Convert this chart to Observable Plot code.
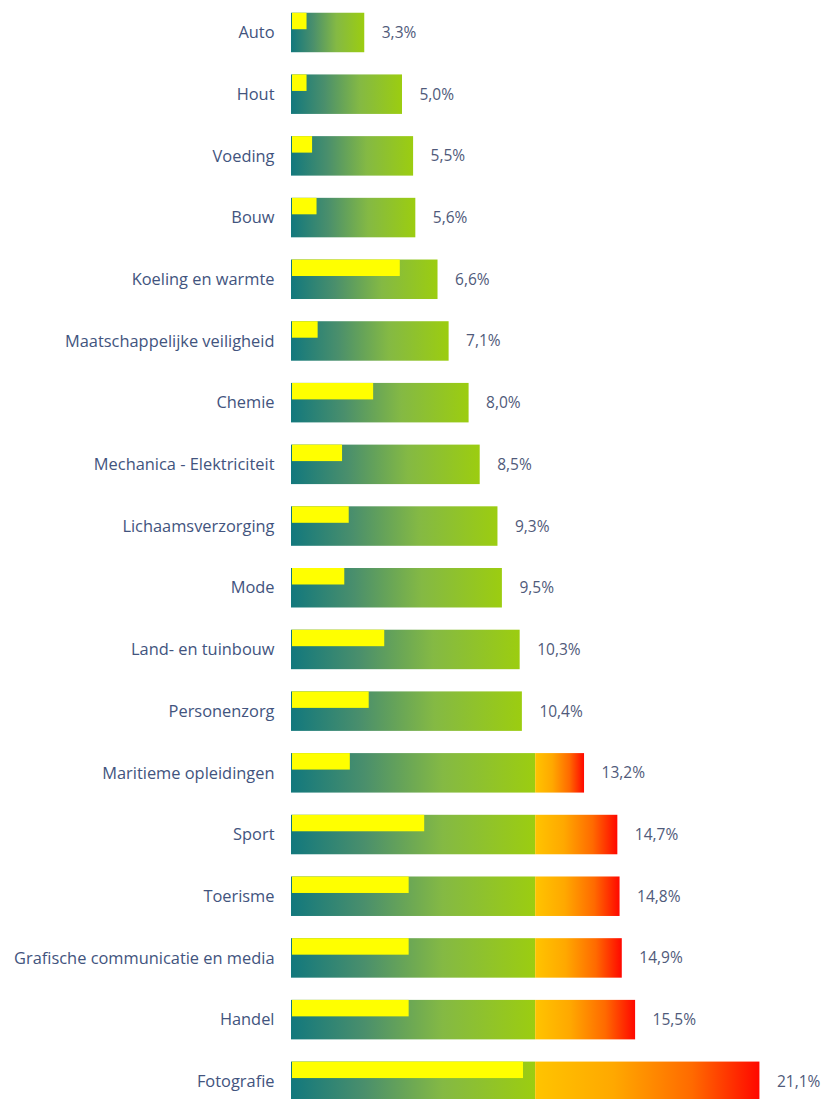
<!DOCTYPE html>
<html>
<head>
<meta charset="utf-8">
<script src="https://cdn.jsdelivr.net/npm/d3@7"></script>
<script src="https://cdn.jsdelivr.net/npm/@observablehq/plot@0.6"></script>
<style>
  html, body { margin: 0; padding: 0; background: #fff; overflow: hidden; }
  #chart svg { display: block; }
</style>
</head>
<body>
<div id="chart"></div>
<script>
const categories = [
  "Auto", "Hout", "Voeding", "Bouw", "Koeling en warmte",
  "Maatschappelijke veiligheid", "Chemie", "Mechanica - Elektriciteit",
  "Lichaamsverzorging", "Mode", "Land- en tuinbouw", "Personenzorg",
  "Maritieme opleidingen", "Sport", "Toerisme",
  "Grafische communicatie en media", "Handel", "Fotografie"
];
const totalValues = [3.3, 5.0, 5.5, 5.6, 6.6, 7.1, 8.0, 8.5, 9.3, 9.5, 10.3, 10.4, 13.2, 14.7, 14.8, 14.9, 15.5, 21.1];
const yellowValues = [0.7, 0.7, 0.95, 1.15, 4.9, 1.2, 3.7, 2.3, 2.6, 2.4, 4.2, 3.5, 2.65, 6.0, 5.3, 5.3, 5.3, 10.45];
const threshold = 11;

const rows = categories.map((c, i) => ({cat: c, total: totalValues[i], yellow: yellowValues[i]}));
const overRows = rows.filter(d => d.total > threshold);
const fmt = v => d3.format(".1f")(v).replace(".", ",") + "%";

const labelColor = "#42547e";
const valueColor = "#505a7a";

const plot = Plot.plot({
  width: 822,
  height: 1099,
  marginLeft: 0, marginRight: 0, marginTop: 0, marginBottom: 0,
  style: {background: "#fff", fontFamily: "'Open Sans', Lato, sans-serif"},
  x: {domain: [0, 24], range: [291, 291 + 24 * 22.2], axis: null},
  y: {domain: categories, range: [0.4, 1113.4], paddingInner: 0.36, paddingOuter: 0.2, round: false, axis: null},
  marks: [
    Plot.barX(rows, {y: "cat", x1: 0, x2: d => Math.min(d.total, threshold), fill: "url(#gradGreen)"}),
    Plot.barX(overRows, {y: "cat", x1: threshold, x2: "total", fill: "url(#gradRed)"}),
    Plot.barX(rows, {y: "cat", x1: 0, x2: "yellow", fill: "#ffff00", insetBottom: 23, insetLeft: 1}),
    Plot.text(rows, {y: "cat", x: 0, text: "cat", textAnchor: "end", dx: -17, fill: labelColor, fontSize: 16.4}),
    Plot.text(rows, {y: "cat", x: "total", text: d => fmt(d.total), textAnchor: "start", dx: 17, fill: valueColor, fontSize: 15.5})
  ]
});

const defs = d3.select(plot).insert("defs", ":first-child");
const g = defs.append("linearGradient").attr("id", "gradGreen")
  .attr("x1", 0).attr("y1", 0).attr("x2", 1).attr("y2", 0);
[[0, "#12787d"], [0.3, "#4a8f6c"], [0.62, "#84b944"], [1, "#9ccd10"]].forEach(([o, c]) =>
  g.append("stop").attr("offset", o).attr("stop-color", c));
const r = defs.append("linearGradient").attr("id", "gradRed")
  .attr("x1", 0).attr("y1", 0).attr("x2", 1).attr("y2", 0);
[[0, "#ffc400"], [0.35, "#ffa800"], [0.7, "#ff6a00"], [1, "#ff0800"]].forEach(([o, c]) =>
  r.append("stop").attr("offset", o).attr("stop-color", c));

document.getElementById("chart").appendChild(plot);
</script>
</body>
</html>
